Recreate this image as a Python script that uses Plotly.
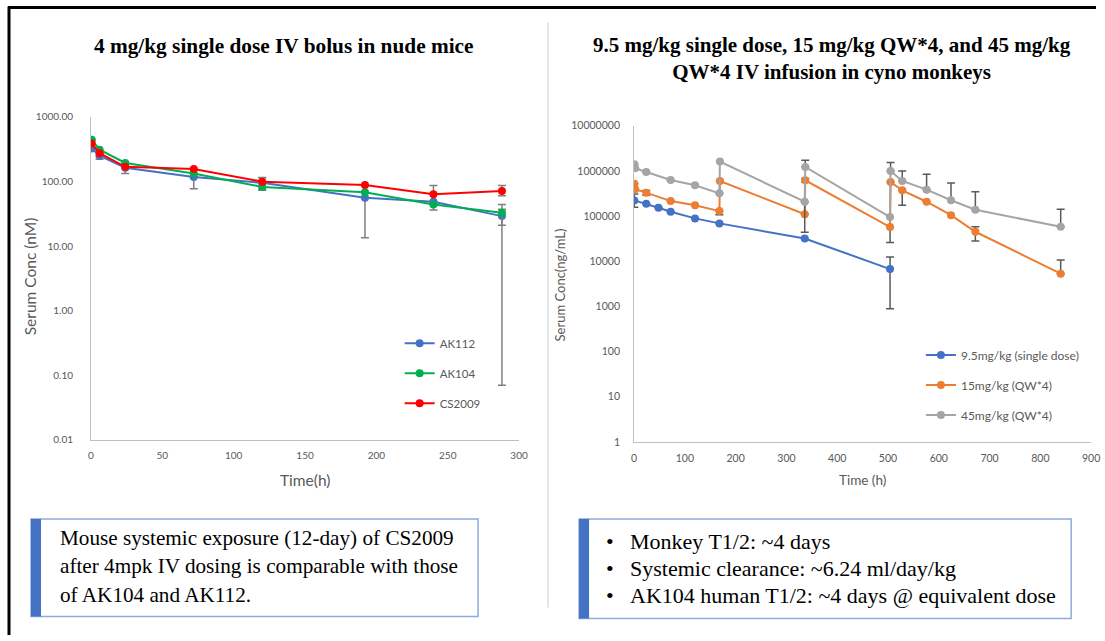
import plotly.graph_objects as go

W, H = 1105, 641

# ---------------- Left chart data (mouse) ----------------
mouse_time = [0.5, 6, 24, 72, 120, 192, 240, 288]
ak112 = [322, 250, 163, 117, 95, 56, 48.5, 29]
ak112_up = [0, 0, 0, 0, 20, 0, 0, 8]
ak112_dn = [0, 30, 31, 40, 20, 42.6, 0, 8]
ak104 = [440, 310, 193, 132, 82, 68, 44, 32.7]
ak104_up = [0, 0, 0, 0, 0, 0, 0, 11]
ak104_dn = [0, 0, 0, 0, 9, 0, 8, 32.63]
cs2009 = [385, 273, 168, 156, 99, 88, 63, 71]
cs2009_up = [0, 0, 0, 0, 15, 0, 23, 15]
cs2009_dn = [0, 0, 0, 0, 0, 0, 0, 11]
mouse_names = ["AK112", "AK104", "CS2009"]
mouse_colors = ["#4472C4", "#00B050", "#FF0000"]
mouse_yticks = [0.01, 0.1, 1, 10, 100, 1000]
mouse_yticktext = ["0.01", "0.10", "1.00", "10.00", "100.00", "1000.00"]
mouse_xticks = [0, 50, 100, 150, 200, 250, 300]

# ---------------- Right chart data (monkey) ----------------
sd_time = [0.5, 24, 48, 72, 120, 168, 336, 504]
sd_conc = [223000, 188000, 153000, 125000, 89000, 69000, 32000, 6700]
sd_up = [87000, 0, 0, 0, 0, 0, 0, 5800]
sd_dn = [65000, 0, 0, 0, 0, 0, 0, 5810]

qw_time = [0.5, 2, 24, 72, 120, 168, 169, 336, 337, 504, 505, 528, 576, 624, 672, 840]
qw15 = [522000, 392000, 331000, 215000, 173000, 129000, 600000, 110000, 621000,
        57000, 570000, 373000, 208000, 105000, 45000, 5300]
qw15_up = [0, 0, 40000, 0, 0, 0, 0, 0, 60000, 0, 0, 0, 0, 0, 13000, 5400]
qw15_dn = [0, 0, 40000, 0, 0, 22000, 0, 0, 60000, 31000, 0, 198000, 0, 0, 17000, 0]
qw45 = [1410000, 1150000, 950000, 631000, 481000, 319000, 1610000, 208000, 1230000,
        95000, 1000000, 600000, 385000, 224000, 138000, 58000]
qw45_up = [0, 0, 0, 0, 0, 0, 0, 0, 500000, 0, 530000, 400000, 458000, 317000, 210000, 83000]
qw45_dn = [0, 0, 0, 0, 0, 0, 0, 164000, 0, 0, 0, 0, 0, 0, 0, 0]
monkey_names = ["9.5mg/kg (single dose)", "15mg/kg (QW*4)", "45mg/kg (QW*4)"]
monkey_colors = ["#4472C4", "#ED7D31", "#A5A5A5"]
monkey_yticks = [1, 10, 100, 1000, 10000, 100000, 1000000, 10000000]
monkey_xticks = [0, 100, 200, 300, 400, 500, 600, 700, 800, 900]

# ---------------- Texts ----------------
left_title = "4 mg/kg single dose IV bolus in nude mice"
right_title = "9.5 mg/kg single dose, 15 mg/kg QW*4, and 45 mg/kg<br>QW*4 IV infusion in cyno monkeys"
left_box_lines = ["Mouse systemic exposure (12-day) of CS2009",
                  "after 4mpk IV dosing is comparable with those",
                  "of AK104 and AK112."]
right_box_lines = ["Monkey T1/2: ~4 days",
                   "Systemic clearance: ~6.24 ml/day/kg",
                   "AK104 human T1/2: ~4 days @ equivalent dose"]

# the captured picture shows the page slightly rescaled; map target picture
# pixels back to page pixels
SX, OX, SY, OY = 0.989, 3.0, 0.978, 5.6


def px(x):
    return ((x - OX) / SX) / W


def py(y):
    return 1 - ((y - OY) / SY) / H


GRAY_TXT = "#595959"
SANS = "Lato, Carlito, Liberation Sans"
SERIF = "Liberation Serif, Times New Roman, serif"

fig = go.Figure()

mouse_series = [(ak112, ak112_up, ak112_dn), (ak104, ak104_up, ak104_dn), (cs2009, cs2009_up, cs2009_dn)]
for (vals, up, dn), name, col in zip(mouse_series, mouse_names, mouse_colors):
    fig.add_trace(go.Scatter(
        x=mouse_time, y=vals, name=name, mode="lines+markers",
        line=dict(color=col, width=2), marker=dict(color=col, size=8),
        error_y=dict(type="data", array=up, arrayminus=dn, color="#7F7F7F",
                     thickness=1.5, width=4),
        xaxis="x", yaxis="y", legend="legend", legendgroup=name))

monkey_series = [(sd_time, sd_conc, sd_up, sd_dn), (qw_time, qw15, qw15_up, qw15_dn),
                 (qw_time, qw45, qw45_up, qw45_dn)]
for (t, vals, up, dn), name, col in zip(monkey_series, monkey_names, monkey_colors):
    fig.add_trace(go.Scatter(
        x=t, y=vals, name=name, mode="lines+markers",
        line=dict(color=col, width=2), marker=dict(color=col, size=8),
        error_y=dict(type="data", array=up, arrayminus=dn, color="#595959",
                     thickness=1.5, width=4),
        xaxis="x2", yaxis="y2", legend="legend2", legendgroup=name))

axis_common = dict(showgrid=False, zeroline=False, showline=True, linecolor="#BFBFBF",
                   linewidth=1, ticks="")

fig.update_layout(
    width=W, height=H, margin=dict(l=0, r=0, t=0, b=0),
    paper_bgcolor="white", plot_bgcolor="white",
    xaxis=dict(domain=[px(91), px(519)], range=[0, 300], tickvals=mouse_xticks,
               anchor="y", ticklabelstandoff=6,
               tickfont=dict(family=SANS, size=10, color=GRAY_TXT), **axis_common),
    yaxis=dict(domain=[py(438), py(116)], type="log", range=[-2, 3], tickvals=mouse_yticks,
               ticktext=mouse_yticktext, anchor="x", ticklabelstandoff=15,
               tickfont=dict(family=SANS, size=10, color=GRAY_TXT), **axis_common),
    xaxis2=dict(domain=[px(634), px(1091)], range=[0, 900], tickvals=monkey_xticks,
                anchor="y2", ticklabelstandoff=7,
                tickfont=dict(family=SANS, size=10.5, color=GRAY_TXT), **axis_common),
    yaxis2=dict(domain=[py(440), py(125)], type="log", range=[0, 7], tickvals=monkey_yticks,
                ticktext=[str(v) for v in monkey_yticks], anchor="x2", ticklabelstandoff=11,
                tickfont=dict(family=SANS, size=10.5, color=GRAY_TXT), **axis_common),
    legend=dict(x=401 / W, y=1 - 329 / H, xanchor="left", yanchor="top",
                font=dict(family=SANS, size=11.5, color=GRAY_TXT),
                bgcolor="rgba(0,0,0,0)", traceorder="grouped", tracegroupgap=11,
                itemwidth=30),
    legend2=dict(x=928 / W, y=1 - 341 / H, xanchor="left", yanchor="top",
                 font=dict(family=SANS, size=12, color=GRAY_TXT),
                 bgcolor="rgba(0,0,0,0)", traceorder="grouped", tracegroupgap=11,
                 itemwidth=30),
    showlegend=True,
)

ann = []


def add_text(x, y, text, font, xanchor="center", angle=0):
    ann.append(dict(x=px(x), y=py(y), text=text, showarrow=False, xref="paper", yref="paper",
                    xanchor=xanchor, yanchor="middle", textangle=angle, font=font))


# titles
add_text(283, 45, "<b>" + left_title + "</b>", dict(family=SERIF, size=21.3, color="black"))
add_text(832, 58, "<b>" + right_title + "</b>", dict(family=SERIF, size=21, color="black"))
# axis titles
add_text(30, 275, "Serum Conc (nM)", dict(family=SANS, size=15.5, color=GRAY_TXT), angle=-90)
add_text(305, 478, "Time(h)", dict(family=SANS, size=15.5, color=GRAY_TXT))
add_text(560, 284, "Serum Conc(ng/mL)", dict(family=SANS, size=13, color=GRAY_TXT), angle=-90)
add_text(862, 478, "Time (h)", dict(family=SANS, size=13.5, color=GRAY_TXT))
# text boxes
for i, line in enumerate(left_box_lines):
    add_text(58, 535.5 + 28.5 * i, line, dict(family=SERIF, size=21.2, color="black"), xanchor="left")
for i, line in enumerate(right_box_lines):
    f = dict(family=SERIF, size=22, color="black")
    add_text(604, 539 + 27 * i, "\u2022", f, xanchor="left")
    add_text(628, 539 + 27 * i, line, f, xanchor="left")
fig.update_layout(annotations=ann)

shapes = []
# outer black frame (top + left)
shapes.append(dict(type="line", xref="paper", yref="paper", x0=px(8), x1=1, y0=py(7), y1=py(7),
                   line=dict(color="black", width=3)))
shapes.append(dict(type="line", xref="paper", yref="paper", x0=px(9), x1=px(9), y0=py(6), y1=0,
                   line=dict(color="black", width=3)))
# divider
shapes.append(dict(type="line", xref="paper", yref="paper", x0=px(548), x1=px(548), y0=py(22), y1=py(605),
                   line=dict(color="#E6E6E6", width=2)))
# boxes
for x0, x1, y0, y1 in [(31, 478, 517, 614), (579, 1071, 517, 616)]:
    shapes.append(dict(type="rect", xref="paper", yref="paper", x0=px(x0), x1=px(x1), y0=py(y1), y1=py(y0),
                       line=dict(color="#8FAADC", width=1.5), fillcolor="rgba(0,0,0,0)"))
    shapes.append(dict(type="rect", xref="paper", yref="paper", x0=px(x0), x1=px(x0 + 10), y0=py(y1), y1=py(y0),
                       line=dict(width=0), fillcolor="#4472C4"))
fig.update_layout(shapes=shapes)

fig.write_html("out.html", config={"displayModeBar": False},
               post_script="document.body.style.margin='0';document.body.style.overflow='hidden';")
